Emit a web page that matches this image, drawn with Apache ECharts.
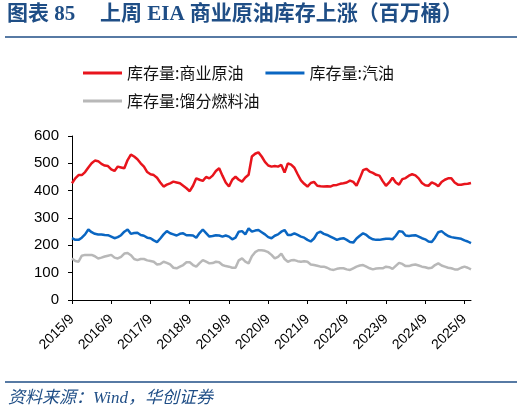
<!DOCTYPE html>
<html><head><meta charset="utf-8">
<script src="https://cdn.jsdelivr.net/npm/echarts@6/dist/echarts.min.js"></script>
<style>html,body{margin:0;padding:0;background:#fff}#c{width:524px;height:417px}</style>
</head><body><div id="c"></div>
<script>
// months 2015/9 .. 2025/11
const months = [];
for (let y = 2015, m = 9; !(y === 2025 && m === 12); ) {
  months.push(y + '/' + m);
  m++; if (m > 12) { m = 1; y++; }
}
const crude = [427,445,457,457,468,485,500,510,508,498,492,490,
478,472,488,485,482,512,532,525,515,500,488,468,
460,457,447,430,415,422,427,433,430,427,418,409,
398,418,445,440,436,450,445,455,472,482,455,430,
415,440,451,440,433,448,458,525,535,540,525,505,
492,488,490,488,494,466,500,495,484,460,438,425,
415,428,432,418,416,415,416,415,420,421,425,427,
430,437,432,418,445,475,480,470,465,458,455,435,
418,430,447,430,422,442,446,455,460,456,445,428,
420,418,430,425,416,432,440,445,445,430,422,422,
424,425,428];
const gasoline = [226,220,220,228,240,258,248,242,240,240,238,237,
232,226,230,237,250,258,242,245,246,238,235,228,
226,218,212,225,240,252,244,240,236,242,244,237,
237,236,228,245,258,245,232,234,237,236,232,236,
232,222,228,250,252,240,262,250,254,256,248,240,
230,226,235,240,250,256,238,238,244,238,232,228,
220,214,225,245,250,242,238,232,226,220,224,226,
220,212,210,225,235,244,238,228,222,220,220,222,
224,224,222,235,252,250,236,234,236,237,232,226,
222,214,212,228,248,252,242,234,230,228,226,224,
218,214,208];
const distillate = [152,143,140,162,165,165,165,160,152,155,159,162,
165,155,152,158,170,172,164,150,146,150,150,145,
143,140,130,132,140,136,130,118,116,122,128,138,
138,128,122,135,146,140,134,135,140,138,128,124,
122,118,118,145,152,140,134,160,175,182,182,180,
175,165,152,158,170,150,140,145,146,142,140,142,
140,130,128,125,122,122,118,112,110,114,116,116,
112,110,116,122,126,128,122,116,112,115,116,116,
122,120,114,125,136,132,124,124,128,130,126,122,
120,116,118,128,134,126,122,118,116,112,112,118,
122,118,112];
const names = ['库存量:商业原油','库存量:汽油','库存量:馏分燃料油'];
const colors = ['#e8141c','#0a66c2','#b8b8b8'];
const navy = '#1f4e86';
const serif = '"Liberation Serif","Noto Sans CJK SC",serif';

const chart = echarts.init(document.getElementById('c'));
chart.setOption({
  animation: false,
  graphic: [
    { type: 'text', left: 7, top: 4, style: { text: '图表 85', fill: navy, fontSize: 21, fontWeight: 'bold', fontFamily: serif } },
    { type: 'text', left: 100, top: 4, style: { text: '上周 EIA 商业原油库存上涨（百万桶）', fill: navy, fontSize: 21, fontWeight: 'bold', fontFamily: serif } },
    { type: 'line', shape: { x1: 5, y1: 37, x2: 517, y2: 37 }, style: { stroke: navy, lineWidth: 1.5 } },
    { type: 'line', shape: { x1: 5, y1: 382, x2: 517, y2: 382 }, style: { stroke: navy, lineWidth: 1.5 } },
    { type: 'text', left: 8, top: 390, style: { text: '资料来源：Wind，华创证券', fill: navy, fontSize: 17, fontStyle: 'italic', fontFamily: serif } }
  ],
  legend: [
    { data: [names[0], names[1]], left: 83, top: 65, padding: 0, itemWidth: 39, itemHeight: 3, itemGap: 22,
      icon: 'rect', textStyle: { fontSize: 16, color: '#111', fontFamily: '"Noto Sans CJK SC",sans-serif' } },
    { data: [names[2]], left: 83, top: 93, padding: 0, itemWidth: 39, itemHeight: 3,
      icon: 'rect', textStyle: { fontSize: 16, color: '#111', fontFamily: '"Noto Sans CJK SC",sans-serif' } }
  ],
  grid: { left: 72, right: 53, top: 136, bottom: 117, containLabel: false },
  xAxis: {
    type: 'category', data: months, boundaryGap: false,
    axisLine: { lineStyle: { color: '#000', width: 1 } },
    axisTick: { interval: 11, length: 4, lineStyle: { color: '#000' } },
    axisLabel: { interval: 11, rotate: 45, fontSize: 14, color: '#000', margin: 17, fontFamily: '"Liberation Sans",Arial,sans-serif' },
    splitLine: { show: false }
  },
  yAxis: {
    type: 'value', min: 0, max: 600, interval: 100,
    axisLine: { show: true, lineStyle: { color: '#000', width: 1 } },
    axisTick: { show: true, length: 4, lineStyle: { color: '#000' } },
    axisLabel: { fontSize: 15, color: '#000', margin: 13, fontFamily: '"Liberation Sans",Arial,sans-serif' },
    splitLine: { show: false }
  },
  series: [crude, gasoline, distillate].map((d, i) => ({
    name: names[i], type: 'line', data: d, showSymbol: false, symbol: 'none',
    lineStyle: { color: colors[i], width: 2.5 }, itemStyle: { color: colors[i] }, z: 3 - i
  }))
});
</script></body></html>
